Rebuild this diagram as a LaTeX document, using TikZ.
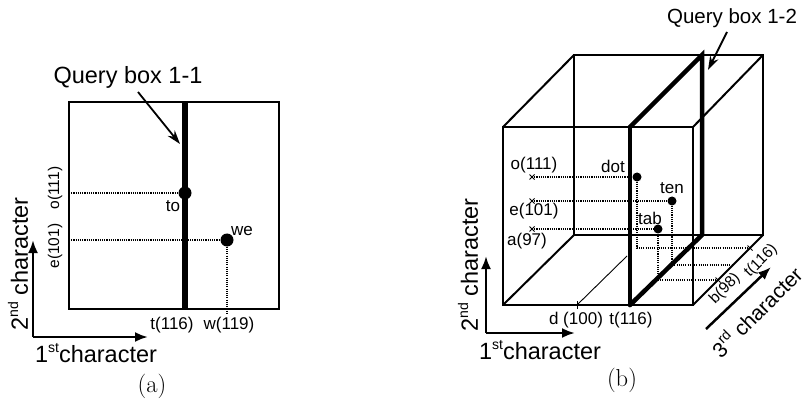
\documentclass[tikz,border=0pt]{standalone}
\usepackage{fontspec}
\newfontfamily\arialf{Liberation Sans}
\usetikzlibrary{arrows.meta}
\newcommand{\supx}[1]{\raisebox{0.42em}{\fontsize{14}{14}\selectfont #1}}
\tikzset{
 lblfont/.style={font=\arialf\fontsize{17}{17}\selectfont, inner sep=0pt},
 rlblfont/.style={font=\arialf\fontsize{15.5}{16}\selectfont, inner sep=0pt},
 axfont/.style={font=\arialf\fontsize{23.5}{24}\selectfont, inner sep=0pt},
 capfont/.style={font=\fontsize{24.5}{25}\selectfont, inner sep=0pt},
 cubeedge/.style={line width=2pt},
 frameline/.style={line width=2.8pt},
 qline/.style={line width=5.5pt},
 qlineb/.style={line width=4.5pt},
 dotl/.style={line width=1.1pt, dash pattern=on 1.1pt off 1.1pt},
 bigdot/.style={circle, fill, inner sep=0pt, minimum size=13pt},
 smalldot/.style={circle, fill, inner sep=0pt, minimum size=9pt},
 axarrow/.style={line width=2.5pt, -{Latex[length=13pt,width=10pt]}},
 ptr/.style={line width=1.8pt, -{Stealth[length=14pt,width=9pt]}},
}
\begin{document}
\begin{tikzpicture}[x=1pt,y=-1pt]
\useasboundingbox (0,0) rectangle (804,409);
% ---------------- panel (a) ----------------
\coordinate (aTL) at (69,102);
\coordinate (aBR) at (279,309);
\coordinate (aQT) at (185,102);
\coordinate (aQB) at (185,309);
\coordinate (aLo) at (69,193);
\coordinate (aLe) at (69,240);
\coordinate (aBw) at (227,313);
\draw[frameline] (aTL) rectangle (aBR);
\draw[qline] (aQT) -- (aQB);
\node[bigdot] (to) at (185,193) {};
\node[bigdot] (we) at (227,240) {};
\draw[dotl] (aLo) -- (to);
\draw[dotl] (aLe) -- (we);
\draw[dotl] (we) -- (aBw);
\node[lblfont] (tolbl) at (173,206) {to};
\node[lblfont] (welbl) at (242,231) {we};
\node[lblfont] (at116) at (172,325) {t(116)};
\node[lblfont] (aw119) at (229,325) {w(119)};
\node[rlblfont, rotate=90] (ao111) at (55,188) {o(111)};
\node[rlblfont, rotate=90] (ae101) at (55,246) {e(101)};
\node[axfont] (qa) at (128,77) {Query box 1-1};
\coordinate (qaS) at (138,92);
\coordinate (qaE) at (180,144);
\draw[ptr] (qaS) -- (qaE);
\coordinate (aO) at (33,337);
\coordinate (aY) at (33,240);
\coordinate (aX) at (148,337);
\draw[axarrow] (aO) -- (aY);
\draw[axarrow] (aO) -- (aX);
\node[axfont, rotate=90] (a2nd) at (18,264) {2\supx{nd} character};
\node[axfont] (a1st) at (96,353) {1\supx{st}character};
\node[capfont] (capa) at (152,386) {(a)};
% ---------------- panel (b) ----------------
\coordinate (FTL) at (503,127);
\coordinate (FTR) at (693,127);
\coordinate (FBR) at (693,305);
\coordinate (FBL) at (503,305);
\coordinate (BTL) at (574,55);
\coordinate (BTR) at (763,55);
\coordinate (BBR) at (763,235);
\coordinate (BBL) at (574,235);
\draw[cubeedge] (FTL) -- (FTR) -- (FBR) -- (FBL) -- cycle;
\draw[cubeedge] (BTL) -- (BTR) -- (BBR) -- (BBL) -- cycle;
\draw[cubeedge] (FTL) -- (BTL);
\draw[cubeedge] (FTR) -- (BTR);
\draw[cubeedge] (FBR) -- (BBR);
\draw[cubeedge] (FBL) -- (BBL);
% d(100) line
\coordinate (dS) at (577,305);
\coordinate (dE) at (627,256);
\draw[line width=0.9pt] (dS) -- (dE);
\draw[line width=1pt] (577,301) -- (577,309);
% query plane
\coordinate (QFT) at (630,127);
\coordinate (QFB) at (630,305);
\coordinate (QBT) at (702,55);
\coordinate (QBB) at (702,235);
\draw[qlineb, line cap=round] (QFT) -- (QFB);
\draw[qlineb, line cap=round] (QFT) -- (QBT) -- (QBB) -- (QFB);
% marks
\coordinate (mo) at (532,177);
\coordinate (me) at (532,201);
\coordinate (ma) at (532,229);
\foreach \m in {mo,me,ma}{
  \draw[line width=1pt] (\m) +(-2.5,-2.5) -- +(2.5,2.5) +(-2.5,2.5) -- +(2.5,-2.5);
}
\node[smalldot] (dot) at (637,177) {};
\node[smalldot] (ten) at (672,201) {};
\node[smalldot] (tab) at (658,229) {};
\draw[dotl] (mo) -- (dot);
\draw[dotl] (me) -- (ten);
\draw[dotl] (ma) -- (tab);
\coordinate (dotF) at (637,248);
\coordinate (tenF) at (672,265);
\coordinate (tabF) at (658,280);
\coordinate (dotR) at (750,248);
\coordinate (tenR) at (733,265);
\coordinate (tabR) at (718,280);
\draw[dotl] (dot) -- (dotF) -- (dotR);
\draw[dotl] (ten) -- (tenF) -- (tenR);
\draw[dotl] (tab) -- (tabF) -- (tabR);
\draw[line width=1pt] (dotR) +(-2.5,-2.5) -- +(2.5,2.5);
\draw[line width=1pt] (tabR) +(-2.5,-2.5) -- +(2.5,2.5);
% labels
\node[lblfont] (bo111) at (534,165) {o(111)};
\node[lblfont] (be101) at (534,211) {e(101)};
\node[lblfont] (ba97) at (527,241) {a(97)};
\node[lblfont] (dotlbl) at (613,166) {dot};
\node[lblfont] (tenlbl) at (672,188) {ten};
\node[lblfont] (tablbl) at (650,218) {tab};
\node[lblfont] (bd100) at (576,320) {d (100)};
\node[lblfont] (bt116) at (631,320) {t(116)};
\node[rlblfont, rotate=45] (bb98) at (725,289) {b(98)};
\node[rlblfont, rotate=45] (btt116) at (761,261) {t(116)};
\node[axfont, font=\arialf\fontsize{21}{22}\selectfont, rotate=45] (b3rd) at (756,311) {3\supx{rd} character};
\coordinate (b3S) at (706,329);
\coordinate (b3E) at (771,267);
\draw[axarrow] (b3S) -- (b3E);
\node[axfont, font=\arialf\fontsize{20.5}{21}\selectfont] (qb) at (732,18) {Query box 1-2};
\coordinate (qbS) at (727,32);
\coordinate (qbE) at (708,70);
\draw[ptr] (qbS) -- (qbE);
\coordinate (bO) at (486,333);
\coordinate (bY) at (486,256);
\coordinate (bX) at (575,333);
\draw[axarrow] (bO) -- (bY);
\draw[axarrow] (bO) -- (bX);
\node[axfont, rotate=90] (b2nd) at (468,265) {2\supx{nd} character};
\node[axfont] (b1st) at (540,350) {1\supx{st}character};
\node[capfont] (capb) at (622,380) {(b)};
\end{tikzpicture}
\end{document}
